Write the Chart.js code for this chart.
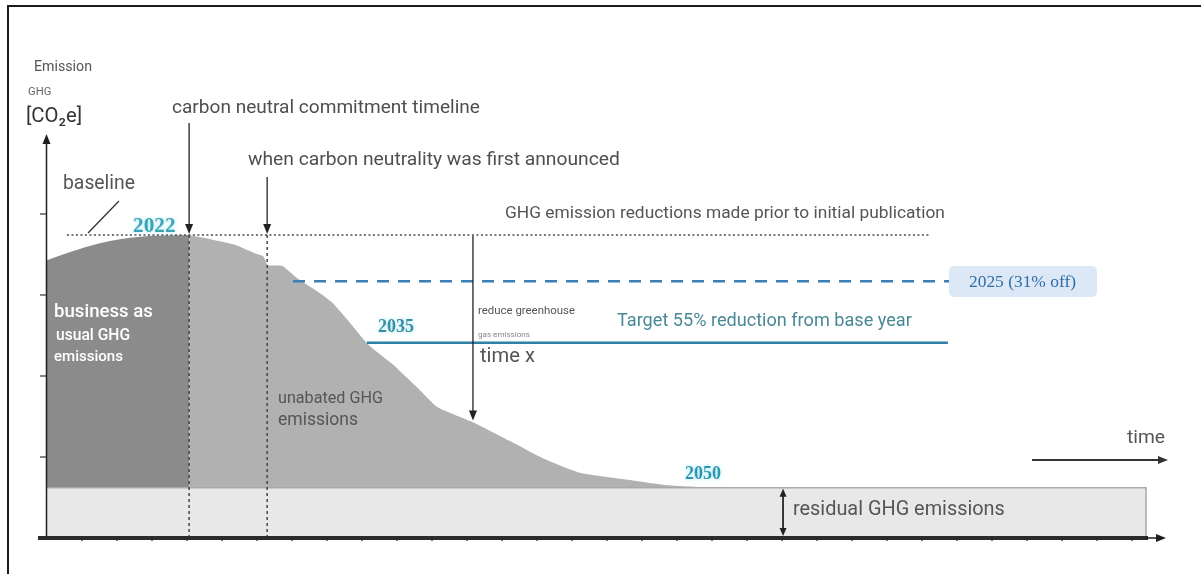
<!DOCTYPE html>
<html>
<head>
<meta charset="utf-8">
<title>GHG emission reduction pathway</title>
<script src="https://cdn.jsdelivr.net/npm/chart.js@4.4.1/dist/chart.umd.min.js"></script>
<style>
  html, body { margin: 0; padding: 0; background: #fff; overflow: hidden; }
  #wrap { position: relative; width: 1201px; height: 574px; }
  #frame { position: absolute; left: 7px; top: 5px; width: 1400px; height: 800px; border: 2px solid #1c1c1c; pointer-events: none; }
  canvas { position: absolute; left: 0; top: 0; }
</style>
</head>
<body>
<div id="wrap">
  <canvas id="chart" width="1201" height="574"></canvas>
  <div id="frame"></div>
</div>
<script>
const $ = (id) => document.getElementById(id);

// time runs in tick steps along the x axis, emissions in y-axis tick units
const bauX = [0, 0.66, 1.51, 2.66, 4.06];
const bauY = [3.43, 3.53, 3.64, 3.72, 3.74];

const unabatedX = [4.06, 4.77, 5.37, 5.91, 6.17, 6.31, 6.71, 7.14, 7.74, 8.14, 8.63, 9.2, 9.89, 10.6, 11.14, 11.66, 12.17, 13.26, 14.14, 15.2, 16.6, 17.77, 18.57, 19.8];
const unabatedY = [3.74, 3.68, 3.62, 3.52, 3.48, 3.37, 3.36, 3.21, 3.04, 2.91, 2.67, 2.38, 2.14, 1.85, 1.62, 1.52, 1.43, 1.19, 0.99, 0.81, 0.72, 0.65, 0.63, 0.62];

const residualLevel = 0.62;
const residualEnd = 31.4;

const baselineLevel = 3.74;
const baselineSpan = [0.57, 25.2];

const level2025 = 3.17;
const span2025 = [7.03, 25.8];

const level2035 = 2.41;
const span2035 = [9.14, 25.74];

const commitX = 4.06;      // 2022, carbon neutral commitment
const announceX = 6.29;    // first announcement
const reductionX = 12.17;  // "time x" reduction arrow
const reductionBottom = 1.45;
const residualArrowX = 21.03;

const yearLabels = ["2022", "2025 (31% off)", "2035", "2050"];

const xMax = 31.5;
const yMax = 5;

const pts = (xs, ys) => xs.map((x, i) => ({ x, y: ys[i] }));

function fitText(ctx, text, x, y, width, size, color, opts = {}) {
  const family = opts.family || "Roboto";
  const weight = opts.weight || "normal";
  ctx.font = `${weight} ${size}px ${family}`;
  const w = ctx.measureText(text).width;
  let s = size * width / w;
  s = Math.max(size * 0.75, Math.min(size * 1.25, s));
  ctx.font = `${weight} ${s.toFixed(2)}px ${family}`;
  ctx.fillStyle = color;
  ctx.textAlign = "left";
  ctx.textBaseline = "middle";
  ctx.fillText(text, x, y);
}

function arrow(ctx, x1, y1, x2, y2, color, width, head = 9, half = 4) {
  const ang = Math.atan2(y2 - y1, x2 - x1);
  ctx.save();
  ctx.strokeStyle = color;
  ctx.fillStyle = color;
  ctx.lineWidth = width;
  ctx.setLineDash([]);
  ctx.beginPath();
  ctx.moveTo(x1, y1);
  ctx.lineTo(x2 - Math.cos(ang) * head * 0.8, y2 - Math.sin(ang) * head * 0.8);
  ctx.stroke();
  ctx.beginPath();
  ctx.moveTo(x2, y2);
  ctx.lineTo(x2 - Math.cos(ang) * head - Math.sin(ang) * half, y2 - Math.sin(ang) * head + Math.cos(ang) * half);
  ctx.lineTo(x2 - Math.cos(ang) * head + Math.sin(ang) * half, y2 - Math.sin(ang) * head - Math.cos(ang) * half);
  ctx.closePath();
  ctx.fill();
  ctx.restore();
}

const diagram = {
  id: "diagram",
  afterDraw(chart) {
    const ctx = chart.ctx;
    const sx = chart.scales.x, sy = chart.scales.y;
    const px = (v) => sx.getPixelForValue(v);
    const py = (v) => sy.getPixelForValue(v);
    const x0 = px(0), y0 = py(0);

    ctx.save();
    // y axis + ticks
    arrow(ctx, x0 - 0.5, y0, x0 - 0.5, py(yMax) + 1, "#1e1e1e", 1.5, 10, 4);
    ctx.strokeStyle = "#333";
    ctx.lineWidth = 1.2;
    for (let v = 1; v < yMax; v++) {
      ctx.beginPath();
      ctx.moveTo(x0 - 7, py(v));
      ctx.lineTo(x0 - 0.5, py(v));
      ctx.stroke();
    }
    // x axis (thick) + ticks + arrow
    ctx.strokeStyle = "#2b2b2b";
    ctx.lineWidth = 4;
    ctx.beginPath();
    ctx.moveTo(x0 - 9, y0);
    ctx.lineTo(px(residualEnd) + 2, y0);
    ctx.stroke();
    ctx.strokeStyle = "#222";
    ctx.lineWidth = 1.2;
    for (let v = 1; v < xMax; v++) {
      ctx.beginPath();
      ctx.moveTo(px(v), y0 + 1);
      ctx.lineTo(px(v), y0 + 3);
      ctx.stroke();
    }
    arrow(ctx, px(residualEnd), y0, px(residualEnd) + 20, y0, "#1e1e1e", 1.5, 10, 4);

    // axis titles
    fitText(ctx, "Emission", 34, 67, 58, 13, "#555");
    fitText(ctx, "GHG", 28, 92, 24, 9, "#666");
    fitText(ctx, "[CO\u2082e]", 26, 117, 56, 17, "#333");
    fitText(ctx, "time", 1127, 438, 38, 16, "#555");
    arrow(ctx, 1032, 460, 1168, 460, "#333", 1.8, 10, 4);

    // commitment + announcement arrows
    const cx = px(commitX), ax = px(announceX), yb = py(baselineLevel);
    fitText(ctx, "carbon neutral commitment timeline", 172, 108, 308, 17, "#4f4f4f");
    arrow(ctx, cx, 123, cx, yb - 1, "#222", 1.3, 10, 4);
    fitText(ctx, "when carbon neutrality was first announced", 248, 160, 372, 16, "#4f4f4f");
    arrow(ctx, ax, 177, ax, yb - 1, "#222", 1.3, 10, 4);

    // baseline marker
    fitText(ctx, "baseline", 63, 184, 72, 16, "#555");
    ctx.strokeStyle = "#333";
    ctx.lineWidth = 1.3;
    ctx.beginPath();
    ctx.moveTo(119, 201);
    ctx.lineTo(88, 233);
    ctx.stroke();
    fitText(ctx, "GHG emission reductions made prior to initial publication", 505, 214, 440, 15, "#555");

    // year labels
    ctx.save();
    ctx.shadowColor = "rgba(140,225,240,0.8)";
    ctx.shadowBlur = 4;
    fitText(ctx, yearLabels[0], 133, 227, 52, 17, "#3aa3b4", { family: "Liberation Serif", weight: "bold" });
    fitText(ctx, yearLabels[2], 378, 327, 36, 17, "#3a8da3", { family: "Liberation Serif", weight: "bold" });
    fitText(ctx, yearLabels[3], 685, 474, 36, 17, "#2d96b0", { family: "Liberation Serif", weight: "bold" });
    ctx.restore();

    // 2025 badge
    ctx.fillStyle = "#dce8f6";
    ctx.beginPath();
    ctx.roundRect(949, 266, 148, 31, 5);
    ctx.fill();
    fitText(ctx, yearLabels[1], 969, 282, 107, 16, "#2f6ea8", { family: "Liberation Serif" });

    fitText(ctx, "Target 55% reduction from base year", 617, 321, 295, 16, "#4a8896");

    // reduction arrow at time x
    const rx = px(reductionX);
    arrow(ctx, rx, yb + 1, rx, py(reductionBottom), "#222", 1.3, 10, 4);
    fitText(ctx, "reduce greenhouse", 478, 311, 97, 10, "#555");
    fitText(ctx, "gas emissions", 478, 335, 52, 7, "#888");
    fitText(ctx, "time x", 480, 357, 55, 17, "#555");

    // area captions
    fitText(ctx, "business as", 54, 312, 99, 18, "#fff", { weight: "500" });
    fitText(ctx, "usual GHG", 56, 336, 74, 15, "#fff", { weight: "500" });
    fitText(ctx, "emissions", 54, 357, 69, 15, "#fff", { weight: "500" });
    fitText(ctx, "unabated GHG", 278, 399, 105, 15, "#555");
    fitText(ctx, "emissions", 278, 421, 80, 18, "#555");

    // residual
    const qx = px(residualArrowX);
    arrow(ctx, qx, py(residualLevel) + 8, qx, y0 - 2, "#222", 1.3, 8, 3.5);
    arrow(ctx, qx, y0 - 10, qx, py(residualLevel) + 1, "#222", 1.3, 8, 3.5);
    fitText(ctx, "residual GHG emissions", 793, 510, 212, 16, "#555");
    ctx.restore();
  },
};

const flat = (span, level) => [{ x: span[0], y: level }, { x: span[1], y: level }];
const vert = (x, top) => [{ x, y: 0 }, { x, y: top }];

new Chart($("chart").getContext("2d"), {
  type: "line",
  data: {
    datasets: [
      {
        label: "residual GHG emissions",
        data: [{ x: 0, y: residualLevel }, { x: residualEnd, y: residualLevel }, { x: residualEnd, y: 0 }],
        borderColor: "#a9a9a9", borderWidth: 1.5, backgroundColor: "#e8e8e8",
        fill: "origin", pointRadius: 0, order: 5,
      },
      {
        label: "business as usual",
        data: pts(bauX, bauY),
        borderWidth: 0, backgroundColor: "#8b8b8b",
        fill: "origin", pointRadius: 0, cubicInterpolationMode: "monotone", order: 7,
      },
      {
        label: "unabated",
        data: pts(unabatedX, unabatedY),
        borderWidth: 0, backgroundColor: "#b1b1b1",
        fill: "origin", pointRadius: 0, tension: 0.2, order: 8,
      },
      {
        label: "baseline",
        data: flat(baselineSpan, baselineLevel),
        borderColor: "#4a4a4a", borderWidth: 1.5, borderDash: [2, 2.5],
        fill: false, pointRadius: 0, order: 2,
      },
      {
        label: "2025",
        data: flat(span2025, level2025),
        borderColor: "#3a7fb7", borderWidth: 2.5, borderDash: [12, 9],
        fill: false, pointRadius: 0, order: 2,
      },
      {
        label: "2035",
        data: flat(span2035, level2035),
        borderColor: "#2f80a5", borderWidth: 2.5,
        fill: false, pointRadius: 0, order: 2,
      },
      {
        label: "commitment",
        data: vert(commitX, baselineLevel),
        borderColor: "#444", borderWidth: 1.5, borderDash: [3, 3],
        fill: false, pointRadius: 0, order: 1,
      },
      {
        label: "announced",
        data: vert(announceX, baselineLevel),
        borderColor: "#444", borderWidth: 1.5, borderDash: [3, 3],
        fill: false, pointRadius: 0, order: 1,
      },
    ],
  },
  options: {
    responsive: false,
    animation: false,
    devicePixelRatio: 1,
    layout: { padding: { left: 47, right: 51.5, top: 133, bottom: 36 } },
    plugins: { legend: { display: false }, tooltip: { enabled: false } },
    scales: {
      x: { type: "linear", min: 0, max: xMax, display: false },
      y: { type: "linear", min: 0, max: yMax, display: false },
    },
  },
  plugins: [diagram],
});
</script>
</body>
</html>
